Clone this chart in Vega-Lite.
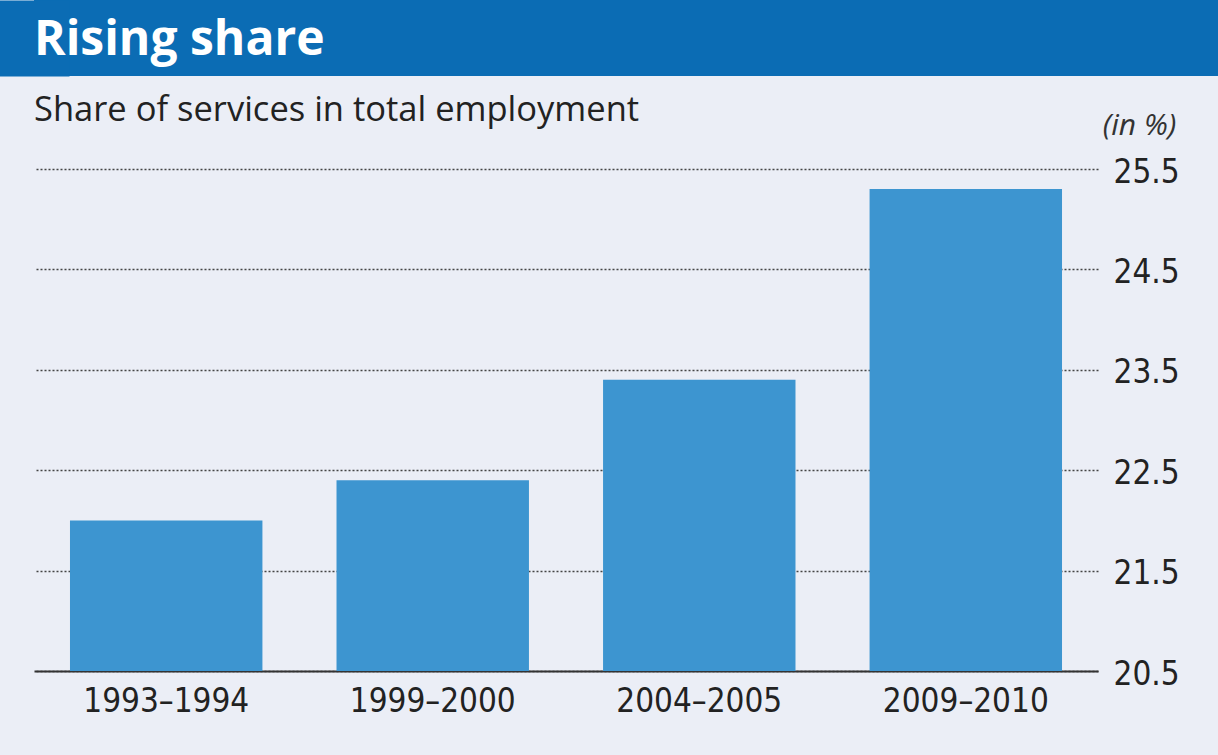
{
  "$schema": "https://vega.github.io/schema/vega-lite/v6.json",
  "background": "#ebeef6",
  "padding": {"left": 0, "top": 0, "right": 0, "bottom": 40},
  "columns": 1,
  "spacing": 16,
  "bounds": "full",
  "config": {"view": {"stroke": null}},
  "concat": [
    {
      "width": 1184,
      "height": 76,
      "view": {"fill": "#0b6cb4", "stroke": null},
      "data": {"values": [{"title": "Rising share"}]},
      "mark": {"type": "text", "align": "left", "baseline": "alphabetic", "font": "Open Sans", "fontWeight": "bold", "fontSize": 48, "color": "#ffffff"},
      "encoding": {
        "x": {"datum": 0, "type": "quantitative", "scale": {"domain": [0, 1]}, "axis": null},
        "y": {"datum": 0.28, "type": "quantitative", "scale": {"domain": [0, 1]},
          "axis": {"orient": "left", "title": null, "labels": false, "ticks": false, "grid": false, "domain": true, "domainColor": "#0b6cb4", "domainWidth": 70, "domainCap": "butt"}},
        "text": {"field": "title"}
      }
    },
    {
      "width": 1064,
      "height": 502,
      "title": {"text": "Share of services in total employment", "anchor": "start", "frame": "group", "font": "Open Sans", "fontSize": 34.5, "fontWeight": "normal", "color": "#222222", "offset": -18, "baseline": "top"},
      "data": {"values": [
        {"period": "1993–1994", "share": 22.0},
        {"period": "1999–2000", "share": 22.4},
        {"period": "2004–2005", "share": 23.4},
        {"period": "2009–2010", "share": 25.3}
      ]},
      "layer": [
        {
          "mark": {"type": "bar", "color": "#3d95d0"},
          "encoding": {
            "x": {"field": "period", "type": "nominal", "sort": null,
              "scale": {"paddingInner": 0.278, "paddingOuter": 0.135},
              "axis": {"orient": "bottom", "title": null, "labelAngle": 0, "ticks": false, "domain": true, "domainColor": "#333333", "domainWidth": 2, "grid": false, "labelFont": "DejaVu Sans Condensed, Roboto", "labelFontSize": 33, "labelColor": "#222222", "labelPadding": 14}},
            "y": {"field": "share", "type": "quantitative",
              "scale": {"domain": [20.5, 25.5], "zero": false, "nice": false},
              "axis": {"orient": "right", "values": [20.5, 21.5, 22.5, 23.5, 24.5, 25.5], "format": ".1f", "grid": true, "gridColor": "#444444", "gridDash": [2, 2], "gridWidth": 1.5, "ticks": false, "domain": false, "labelFont": "DejaVu Sans Condensed, Roboto", "labelFontSize": 33, "labelColor": "#222222", "labelPadding": 15, "labelBaseline": "middle", "labelOffset": 3,
                "title": "(in %)", "titleAngle": 0, "titleX": 41, "titleY": -44, "titleAlign": "center", "titleBaseline": "middle", "titleFont": "Open Sans", "titleFontStyle": "italic", "titleFontWeight": "normal", "titleFontSize": 30, "titleColor": "#333333"}},
            "y2": {"datum": 20.5}
          }
        },
        {
          "mark": {"type": "bar", "opacity": 0},
          "encoding": {
            "x": {"field": "period", "type": "nominal", "sort": null},
            "y": {"field": "share", "type": "quantitative",
              "scale": {"domain": [20.5, 25.5], "zero": false, "nice": false},
              "axis": {"orient": "left", "title": null, "labels": false, "ticks": false, "domain": false, "grid": false, "minExtent": 34, "maxExtent": 34}},
            "y2": {"datum": 20.5}
          }
        }
      ],
      "resolve": {"scale": {"y": "independent"}, "axis": {"y": "independent"}}
    }
  ]
}
